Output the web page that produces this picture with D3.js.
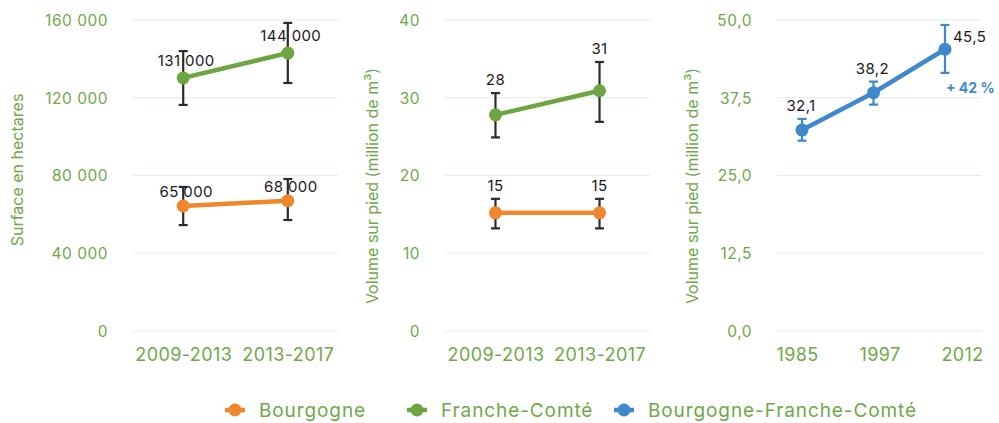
<!DOCTYPE html>
<html>
<head>
<meta charset="utf-8">
<script src="https://cdn.jsdelivr.net/npm/d3@7"></script>
<style>
  html, body { margin: 0; padding: 0; background: #fff; }
  svg { display: block; }
  text { font-family: Inter, "DejaVu Sans", sans-serif; }
</style>
</head>
<body>
<svg id="chart" width="999" height="423"></svg>
<script>
// ---------- DATA ----------
const periods = ["2009-2013", "2013-2017"];
const years = ["1985", "1997", "2012"];

// Panel 1 : surface (ha)
const surfBourgogne      = [64300, 67000];
const surfBourgogneLow   = [54500, 57100];
const surfBourgogneHigh  = [74100, 78200];
const surfBourgogneLabels = ["65 000", "68 000"];
const surfFranche        = [130200, 143000];
const surfFrancheLow     = [116300, 127600];
const surfFrancheHigh    = [144000, 158500];
const surfFrancheLabels  = ["131 000", "144 000"];
const surfTicks = [0, 40000, 80000, 120000, 160000];

// Panel 2 : volume (million m3)
const volBourgogne      = [15.2, 15.2];
const volBourgogneLow   = [13.2, 13.2];
const volBourgogneHigh  = [17.0, 17.0];
const volBourgogneLabels = ["15", "15"];
const volFranche        = [27.8, 30.9];
const volFrancheLow     = [24.9, 26.9];
const volFrancheHigh    = [30.6, 34.6];
const volFrancheLabels  = ["28", "31"];
const volTicks = [0, 10, 20, 30, 40];

// Panel 3 : volume BFC (million m3)
const bfcValues = [32.3, 38.3, 45.3];
const bfcLow    = [30.6, 36.4, 41.5];
const bfcHigh   = [34.1, 40.1, 49.2];
const bfcLabels = ["32,1", "38,2", "45,5"];
const bfcGrowth = "+ 42 %";
const bfcTicks  = [0, 12.5, 25, 37.5, 50];

const legendNames = ["Bourgogne", "Franche-Comté", "Bourgogne-Franche-Comté"];

// ---------- STYLE ----------
const C = {
  orange: "#f0862b",
  green: "#6ca541",
  blue: "#3e88cb",
  text: "#6fa84a",
  grid: "#e4eedc",
  err: "#2b2b2b",
  label: "#1a1a1a"
};

const svg = d3.select("#chart");
const yTop = 20, yBottom = 331;

function panel(opts) {
  const g = svg.append("g");
  const y = d3.scaleLinear().domain(opts.domain).range([yBottom, yTop]);
  const x = d3.scalePoint().domain(opts.cats).range(opts.pointRange).padding(opts.padding);
  const xl = opts.labelScale || x;

  // grid
  g.selectAll("line.grid").data(opts.ticks).join("line")
    .attr("x1", opts.gridRange[0]).attr("x2", opts.gridRange[1])
    .attr("y1", d => y(d)).attr("y2", d => y(d))
    .attr("stroke", C.grid).attr("stroke-width", 1.2);

  // y axis labels
  const ya = d3.axisLeft(y).tickValues(opts.ticks).tickFormat(opts.fmt).tickSize(0).tickPadding(0);
  const yg = g.append("g").attr("transform", `translate(${opts.gridRange[0] - 25},0)`).call(ya);
  yg.select(".domain").remove();
  yg.selectAll("text").attr("fill", C.text).style("font-size", "15.5px").attr("dy", "0.35em")
    .style("letter-spacing", "0.5px")
    .style("font-family", "Inter, sans-serif");

  // x axis labels
  const xa = d3.axisBottom(xl).tickSize(0).tickPadding(0);
  const xg = g.append("g").attr("transform", `translate(0,${yBottom + 30})`).call(xa);
  xg.select(".domain").remove();
  xg.selectAll("text").attr("fill", C.text).style("font-size", "18px").attr("dy", "0")
    .style("letter-spacing", "0.4px")
    .style("font-family", "Inter, sans-serif");

  // axis title
  g.append("text")
    .attr("transform", `translate(${opts.titleX},${opts.titleY}) rotate(-90)`)
    .attr("text-anchor", "middle").attr("dy", "0.35em")
    .attr("fill", C.text).style("font-size", "16px")
    .text(opts.title);

  return { g, x, y };
}

function series(p, vals, lo, hi, color, errColor) {
  const pts = p.x.domain().map((c, i) => ({ c, v: vals[i], lo: lo[i], hi: hi[i] }));
  const line = d3.line().x(d => p.x(d.c)).y(d => p.y(d.v));
  p.g.append("path").datum(pts).attr("d", line)
    .attr("fill", "none").attr("stroke", color).attr("stroke-width", 4.5)
    .attr("stroke-linecap", "round");
  const eg = p.g.selectAll(null).data(pts).join("g").attr("stroke", errColor).attr("stroke-width", 2.2);
  eg.append("line").attr("x1", d => p.x(d.c)).attr("x2", d => p.x(d.c))
    .attr("y1", d => p.y(d.lo)).attr("y2", d => p.y(d.hi));
  eg.append("line").attr("x1", d => p.x(d.c) - 4.5).attr("x2", d => p.x(d.c) + 4.5)
    .attr("y1", d => p.y(d.lo)).attr("y2", d => p.y(d.lo));
  eg.append("line").attr("x1", d => p.x(d.c) - 4.5).attr("x2", d => p.x(d.c) + 4.5)
    .attr("y1", d => p.y(d.hi)).attr("y2", d => p.y(d.hi));
  p.g.selectAll(null).data(pts).join("circle")
    .attr("cx", d => p.x(d.c)).attr("cy", d => p.y(d.v)).attr("r", 6.5)
    .attr("fill", color);
  return pts;
}

function labels(p, pts, texts, fn) {
  p.g.selectAll(null).data(pts).join("text")
    .each(function(d, i) {
      const o = fn(d, i);
      d3.select(this).attr("x", o.x).attr("y", o.y).attr("text-anchor", o.anchor || "middle");
    })
    .attr("fill", C.label).style("font-size", "15px").style("letter-spacing", "0.4px")
    .text((d, i) => texts[i]);
}

// ---------- PANEL 1 ----------
const p1 = panel({
  domain: [0, 160000], ticks: surfTicks, cats: periods,
  gridRange: [133, 338], pointRange: [133, 338], padding: 0.48,
  fmt: d => d3.format(",")(d).replace(/,/g, " "),
  title: "Surface en hectares", titleX: 17, titleY: 170
});
const s1o = series(p1, surfBourgogne, surfBourgogneLow, surfBourgogneHigh, C.orange, C.err);
const s1g = series(p1, surfFranche, surfFrancheLow, surfFrancheHigh, C.green, C.err);
labels(p1, s1g, surfFrancheLabels, d => ({ x: p1.x(d.c) + 3, y: p1.y(d.v) - 12 }));
labels(p1, s1o, surfBourgogneLabels, d => ({ x: p1.x(d.c) + 3, y: p1.y(d.v) - 9 }));

// ---------- PANEL 2 ----------
const p2 = panel({
  domain: [0, 40], ticks: volTicks, cats: periods,
  gridRange: [445, 650], pointRange: [445, 650], padding: 0.485,
  fmt: d => d,
  title: "Volume sur pied (million de m³)", titleX: 372, titleY: 186
});
const s2o = series(p2, volBourgogne, volBourgogneLow, volBourgogneHigh, C.orange, C.err);
const s2g = series(p2, volFranche, volFrancheLow, volFrancheHigh, C.green, C.err);
labels(p2, s2g, volFrancheLabels, d => ({ x: p2.x(d.c), y: p2.y(d.hi) - 8 }));
labels(p2, s2o, volBourgogneLabels, d => ({ x: p2.x(d.c), y: p2.y(d.hi) - 8 }));

// ---------- PANEL 3 ----------
const xl3 = d3.scalePoint().domain(years).range([797, 962]);
const p3 = panel({
  domain: [0, 50], ticks: bfcTicks, cats: years,
  gridRange: [777, 982], pointRange: [777, 970], padding: 0.35, labelScale: xl3,
  fmt: d => d3.format(".1f")(d).replace(".", ","),
  title: "Volume sur pied (million de m³)", titleX: 692, titleY: 186
});
const s3 = series(p3, bfcValues, bfcLow, bfcHigh, C.blue, C.blue);
labels(p3, s3, bfcLabels, (d, i) => i < 2
  ? { x: p3.x(d.c) - 1, y: p3.y(d.hi) - 8 }
  : { x: p3.x(d.c) + 8, y: p3.y(d.v) - 7, anchor: "start" });
const last = s3[s3.length - 1];
p3.g.append("text")
  .attr("x", p3.x(last.c) + 1).attr("y", p3.y(last.lo) + 20)
  .attr("fill", C.blue).style("font-size", "14px").style("font-weight", "700")
  .text(bfcGrowth);

// ---------- LEGEND ----------
const legendColors = [C.orange, C.green, C.blue];
const legendX = [235, 417, 624];
const lg = svg.append("g").attr("transform", "translate(0,410)");
const items = lg.selectAll("g").data(legendNames).join("g")
  .attr("transform", (d, i) => `translate(${legendX[i]},0)`);
items.append("line").attr("x1", -10).attr("x2", 10).attr("y1", 0).attr("y2", 0)
  .attr("stroke", (d, i) => legendColors[i]).attr("stroke-width", 4.5);
items.append("circle").attr("r", 6.5).attr("fill", (d, i) => legendColors[i]);
items.append("text").attr("x", 24).attr("dy", "0.35em")
  .attr("fill", C.text).style("font-size", "19px").style("letter-spacing", "0.9px").text(d => d);
</script>
</body>
</html>
